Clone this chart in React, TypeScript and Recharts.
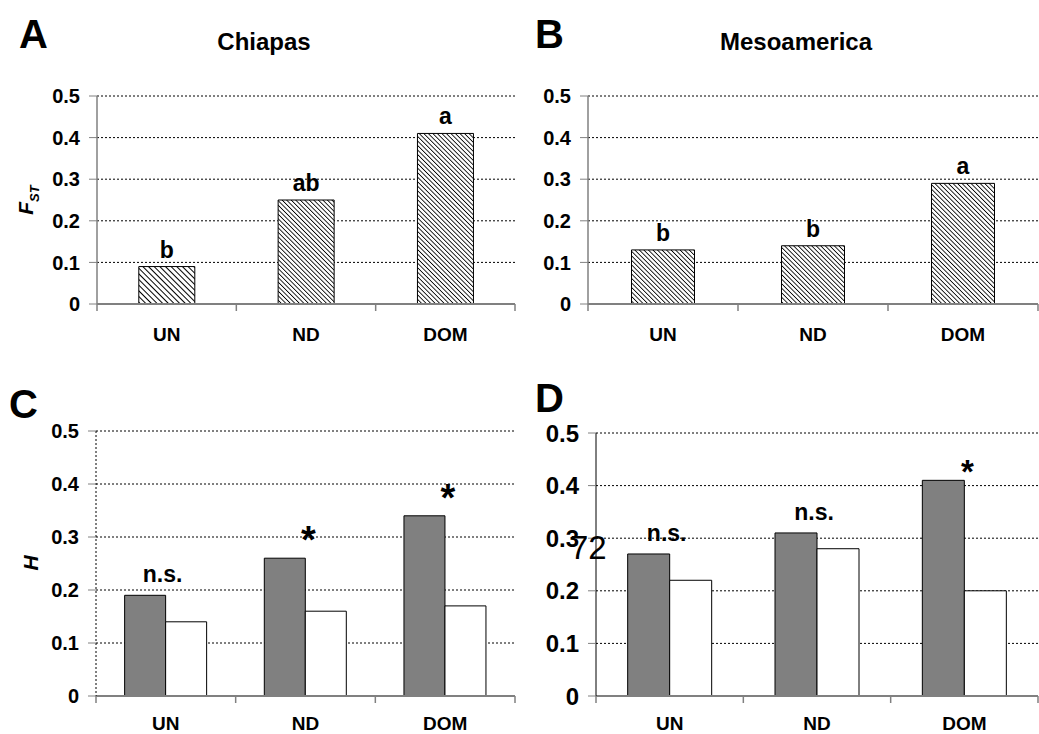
import React from 'react';
import { BarChart, Bar, XAxis, YAxis, CartesianGrid, LabelList, Cell } from 'recharts';

const categories = ['UN', 'ND', 'DOM'];
const yTicks = [0, 0.1, 0.2, 0.3, 0.4, 0.5];

// F_ST panels
const fstChiapas = [0.09, 0.25, 0.41];
const fstChiapasLetters = ['b', 'ab', 'a'];
const fstMeso = [0.13, 0.14, 0.29];
const fstMesoLetters = ['b', 'b', 'a'];

// H panels (filled = grey bar, open = white bar)
const hChiapasFilled = [0.19, 0.26, 0.34];
const hChiapasOpen = [0.14, 0.16, 0.17];
const hChiapasSig = ['n.s.', '*', '*'];
const hMesoFilled = [0.27, 0.31, 0.41];
const hMesoOpen = [0.22, 0.28, 0.2];
const hMesoSig = ['n.s.', 'n.s.', '*'];

const FONT = '"Liberation Sans", Arial, Helvetica, sans-serif';
const hatchChiapas = ['url(#hatchWide)', 'url(#hatchFine)', 'url(#hatchFine)'];
const hatchMeso = ['url(#hatchFine)', 'url(#hatchFine)', 'url(#hatchFine)'];

const Hatches = () => (
  <defs>
    <pattern id="hatchWide" patternUnits="userSpaceOnUse" width="4" height="4" patternTransform="rotate(-45)">
      <rect width="4" height="4" fill="#fff" />
      <line x1="0" y1="0" x2="0" y2="4" stroke="#000" strokeWidth="2" />
    </pattern>
    <pattern id="hatchFine" patternUnits="userSpaceOnUse" width="3.2" height="3.2" patternTransform="rotate(-45)">
      <rect width="3.2" height="3.2" fill="#fff" />
      <line x1="0" y1="0" x2="0" y2="3.2" stroke="#000" strokeWidth="1.7" />
    </pattern>
  </defs>
);

// category label plus Excel-style tick marks at the band edges
const makeCatTick = (labelGap: number) => (p: any) => {
  const { x, y, payload } = p;
  let half = Number(payload && payload.offset);
  if (!Number.isFinite(half) || half <= 0) {
    half = Number(p.width) / Number(p.visibleTicksCount || categories.length) / 2;
  }
  const ok = Number.isFinite(half);
  const last = payload.value === categories[categories.length - 1];
  return (
    <g>
      {ok && <line x1={x - half} x2={x - half} y1={y} y2={y + 7} stroke="#808080" strokeWidth={1.5} />}
      {ok && last && <line x1={x + half} x2={x + half} y1={y} y2={y + 7} stroke="#808080" strokeWidth={1.5} />}
      <text x={x} y={y + labelGap} dy="0.71em" textAnchor="middle" fill="#000" fontSize={19} fontWeight="bold" fontFamily={FONT}>
        {payload.value}
      </text>
    </g>
  );
};

type Margin = { top: number; right: number; bottom: number; left: number };

type FstProps = {
  values: number[];
  letters: string[];
  width: number;
  height: number;
  margin: Margin;
  gap: string;
  hatches: string[];
};

function FstPanel({ values, letters, width, height, margin, gap, hatches }: FstProps) {
  const data = categories.map((c, i) => ({ cat: c, v: values[i], letter: letters[i] }));
  return (
    <BarChart width={width} height={height} data={data} margin={margin} barCategoryGap={gap}>
      <Hatches />
      <CartesianGrid vertical={false} stroke="#000" strokeDasharray="2 2" />
      <XAxis dataKey="cat" height={40} axisLine={{ stroke: '#808080', strokeWidth: 2 }} tickLine={false}
        tickSize={0} tickMargin={0} interval={0} tick={makeCatTick(24)} />
      <YAxis width={60} domain={[0, 0.5]} ticks={yTicks} interval={0} allowDataOverflow
        axisLine={{ stroke: '#808080', strokeWidth: 1.5 }} tickLine={{ stroke: '#808080' }} tickSize={8} tickMargin={9}
        tick={{ fill: '#000', fontSize: 20, fontWeight: 'bold', fontFamily: FONT }} />
      <Bar dataKey="v" stroke="#000" strokeWidth={1} isAnimationActive={false}>
        {data.map((d, i) => <Cell key={d.cat} fill={hatches[i]} />)}
        <LabelList dataKey="letter" position="top" offset={9} fill="#000" fontSize={23} fontWeight="bold" fontFamily={FONT} />
      </Bar>
    </BarChart>
  );
}

type HProps = {
  filled: number[];
  open: number[];
  sig: string[];
  width: number;
  height: number;
  margin: Margin;
  gap: string;
  tickFont: number;
  starFont: number;
  starLift: number;
  yAxisLine: any;
};

function HPanel({ filled, open, sig, width, height, margin, gap, tickFont, starFont, starLift, yAxisLine }: HProps) {
  const data = categories.map((c, i) => ({ cat: c, f: filled[i], o: open[i], sig: sig[i] }));
  const sigLabel = (p: any) => {
    const star = p.value === '*';
    return (
      <text x={p.x + p.width + (star ? 3 : -3)} y={p.y - (star ? starLift : 13)}
        textAnchor="middle" fill="#000" fontFamily={FONT} fontWeight="bold" fontSize={star ? starFont : 23}>
        {p.value}
      </text>
    );
  };
  return (
    <BarChart width={width} height={height} data={data} margin={margin} barCategoryGap={gap} barGap={0}>
      <CartesianGrid vertical={false} stroke="#000" strokeDasharray="2 2" />
      <XAxis dataKey="cat" height={34} axisLine={{ stroke: '#808080', strokeWidth: 2 }} tickLine={false}
        tickSize={0} tickMargin={0} interval={0} tick={makeCatTick(21)} />
      <YAxis width={60} domain={[0, 0.5]} ticks={yTicks} interval={0} allowDataOverflow
        axisLine={yAxisLine} tickLine={{ stroke: '#808080' }} tickSize={8} tickMargin={9}
        tick={{ fill: '#000', fontSize: tickFont, fontWeight: 'bold', fontFamily: FONT }} />
      <Bar dataKey="f" fill="#808080" stroke="#000" strokeWidth={1} isAnimationActive={false}>
        <LabelList dataKey="sig" content={sigLabel} />
      </Bar>
      <Bar dataKey="o" fill="#fff" stroke="#000" strokeWidth={1} isAnimationActive={false} />
    </BarChart>
  );
}

const abs = (left: number, top: number): React.CSSProperties => ({ position: 'absolute', left, top });

export default function App() {
  const letter: React.CSSProperties = { fontFamily: FONT, fontWeight: 'bold', fontSize: 40, lineHeight: '40px' };
  const title: React.CSSProperties = { fontFamily: FONT, fontWeight: 'bold', fontSize: 24, lineHeight: '24px', transform: 'translateX(-50%)', whiteSpace: 'nowrap' };
  const yLabel: React.CSSProperties = { fontFamily: FONT, fontWeight: 'bold', fontStyle: 'italic', fontSize: 21, lineHeight: '21px', transform: 'translate(-50%, -50%) rotate(-90deg)', whiteSpace: 'nowrap' };
  return (
    <div style={{ position: 'absolute', left: 0, top: 0, width: 1039, height: 734, background: '#fff', overflow: 'hidden' }}>
      <div style={abs(0, 0)}>
        <FstPanel values={fstChiapas} letters={fstChiapasLetters} width={520} height={360}
          margin={{ top: 96, right: 5, bottom: 16, left: 37 }} gap="30%" hatches={hatchChiapas} />
      </div>
      <div style={abs(520, 0)}>
        <FstPanel values={fstMeso} letters={fstMesoLetters} width={519} height={360}
          margin={{ top: 96, right: 1, bottom: 16, left: 8 }} gap="29%" hatches={hatchMeso} />
      </div>
      <div style={abs(0, 360)}>
        <HPanel filled={hChiapasFilled} open={hChiapasOpen} sig={hChiapasSig} width={520} height={374}
          margin={{ top: 71, right: 5, bottom: 4, left: 36 }} gap="20.5%" tickFont={20} starFont={38} starLift={5}
          yAxisLine={{ stroke: '#000', strokeDasharray: '2 2' }} />
      </div>
      <div style={abs(520, 360)}>
        <HPanel filled={hMesoFilled} open={hMesoOpen} sig={hMesoSig} width={519} height={374}
          margin={{ top: 73, right: 1, bottom: 4, left: 16 }} gap="21.5%" tickFont={24} starFont={33} starLift={-3}
          yAxisLine={{ stroke: '#000', strokeWidth: 1 }} />
      </div>

      <div style={{ ...abs(19, 14), ...letter }}>A</div>
      <div style={{ ...abs(535, 14), ...letter }}>B</div>
      <div style={{ ...abs(9, 384), ...letter }}>C</div>
      <div style={{ ...abs(535, 378), ...letter }}>D</div>

      <div style={{ ...abs(264, 30), ...title }}>Chiapas</div>
      <div style={{ ...abs(796, 30), ...title }}>Mesoamerica</div>

      <div style={{ ...abs(30, 200), ...yLabel }}>F<sub style={{ fontSize: 13 }}>ST</sub></div>
      <div style={{ ...abs(30, 563), ...yLabel }}>H</div>

      <div style={{ ...abs(570, 531), fontFamily: FONT, fontSize: 33, lineHeight: '33px' }}>72</div>
    </div>
  );
}
